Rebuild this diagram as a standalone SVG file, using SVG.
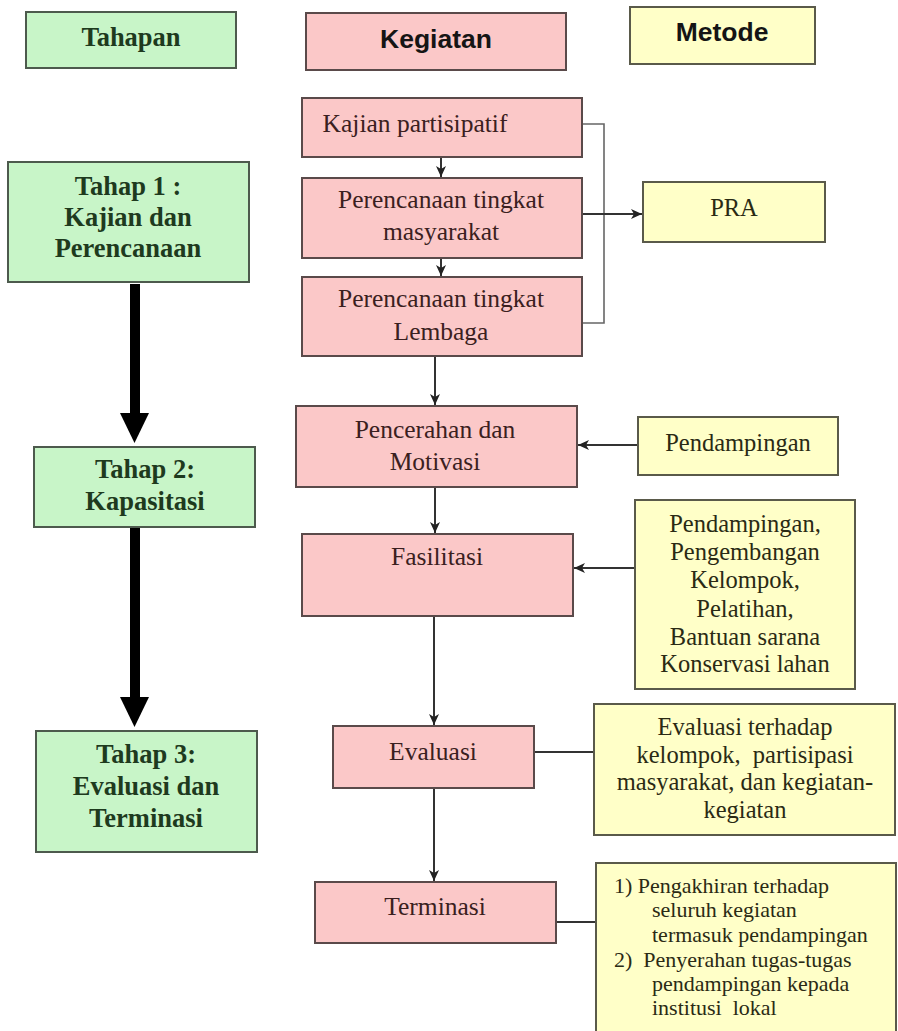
<svg xmlns="http://www.w3.org/2000/svg" width="898" height="1031" viewBox="0 0 898 1031">
<style>
.g{fill:#c8f5c8;stroke:#4d5a4d;stroke-width:2}
.p{fill:#fbc8c8;stroke:#5a4a4a;stroke-width:2}
.y{fill:#ffffc8;stroke:#5a5a4a;stroke-width:2}
.tg{font-family:"Liberation Serif",serif;font-weight:bold;font-size:26.5px;fill:#1e3a1e;text-anchor:middle}
.tp{font-family:"Liberation Serif",serif;font-size:25.5px;fill:#3a2020;text-anchor:middle}
.ty{font-family:"Liberation Serif",serif;font-size:24.5px;fill:#2a2a14;text-anchor:middle}
.ts{font-family:"Liberation Serif",serif;font-size:22px;fill:#2a2a14}
.th{font-family:"Liberation Sans",Arial,sans-serif;font-weight:bold;font-size:26.5px;fill:#151515;text-anchor:middle}
.c{fill:none;stroke:#333;stroke-width:2}
.b{fill:none;stroke:#666;stroke-width:1.6}
.k{fill:#000}
</style>
<defs>
<marker id="ah" markerUnits="userSpaceOnUse" markerWidth="12" markerHeight="12" refX="11" refY="6" orient="auto">
<path d="M0,1 L11,6 L0,11 L3,6 Z" fill="#222"/>
</marker>
</defs>
<rect width="898" height="1031" fill="#fff"/>

<g id="connectors">
<path class="c" d="M441,157 V177" marker-end="url(#ah)"/>
<path class="c" d="M441,258 V276" marker-end="url(#ah)"/>
<path class="b" d="M582,124 H604 V323 H582"/>
<path class="c" d="M582,214 H642" marker-end="url(#ah)"/>
<path class="c" d="M435,356 V405" marker-end="url(#ah)"/>
<path class="c" d="M638,445 H578" marker-end="url(#ah)"/>
<path class="c" d="M435,487 V533" marker-end="url(#ah)"/>
<path class="c" d="M635,568 H574" marker-end="url(#ah)"/>
<path class="c" d="M434,616 V725" marker-end="url(#ah)"/>
<path class="c" d="M534,752 H594"/>
<path class="c" d="M434,788 V881" marker-end="url(#ah)"/>
<path class="c" d="M556,922 H596"/>
<rect class="k" x="130" y="284" width="10" height="130"/>
<path class="k" d="M120,413 H149 L134.5,443 Z"/>
<rect class="k" x="130" y="527" width="10" height="172"/>
<path class="k" d="M120,697 H149 L134.5,727 Z"/>
</g>

<g id="tahapan"><rect class="g" x="26" y="12" width="210" height="56"/><text class="tg" x="131" y="46">Tahapan</text></g>
<g id="kegiatan"><rect class="p" x="306" y="13" width="260" height="57"/><text class="th" x="436" y="48">Kegiatan</text></g>
<g id="metode"><rect class="y" x="630" y="7" width="185" height="57"/><text class="th" x="722" y="41">Metode</text></g>

<g id="tahap1"><rect class="g" x="8" y="162" width="241" height="120"/>
<text class="tg" x="128" y="195">Tahap 1 :</text><text class="tg" x="128" y="226">Kajian dan</text><text class="tg" x="128" y="257">Perencanaan</text></g>
<g id="tahap2"><rect class="g" x="34" y="447" width="221" height="80"/>
<text class="tg" x="145" y="478">Tahap 2:</text><text class="tg" x="145" y="510">Kapasitasi</text></g>
<g id="tahap3"><rect class="g" x="36" y="731" width="221" height="121"/>
<text class="tg" x="146" y="763">Tahap 3:</text><text class="tg" x="146" y="795">Evaluasi dan</text><text class="tg" x="146" y="827">Terminasi</text></g>

<g id="kajian"><rect class="p" x="302" y="98" width="280" height="59"/><text class="tp" x="415" y="132">Kajian partisipatif</text></g>
<g id="masyarakat"><rect class="p" x="302" y="178" width="280" height="80"/>
<text class="tp" x="441" y="208">Perencanaan tingkat</text><text class="tp" x="441" y="240">masyarakat</text></g>
<g id="lembaga"><rect class="p" x="302" y="277" width="280" height="79"/>
<text class="tp" x="441" y="307">Perencanaan tingkat</text><text class="tp" x="441" y="340">Lembaga</text></g>
<g id="pencerahan"><rect class="p" x="296" y="406" width="281" height="81"/>
<text class="tp" x="435" y="438">Pencerahan dan</text><text class="tp" x="435" y="470">Motivasi</text></g>
<g id="fasilitasi"><rect class="p" x="302" y="534" width="271" height="82"/><text class="tp" x="437" y="565">Fasilitasi</text></g>
<g id="evaluasi"><rect class="p" x="333" y="726" width="201" height="62"/><text class="tp" x="433" y="760">Evaluasi</text></g>
<g id="terminasi"><rect class="p" x="315" y="882" width="241" height="61"/><text class="tp" x="435" y="915">Terminasi</text></g>

<g id="pra"><rect class="y" x="643" y="182" width="182" height="60"/><text class="ty" x="734" y="216">PRA</text></g>
<g id="pendampingan"><rect class="y" x="638" y="417" width="200" height="58"/><text class="ty" x="738" y="451">Pendampingan</text></g>
<g id="metode-fasilitasi"><rect class="y" x="635" y="500" width="220" height="189"/>
<text class="ty" x="745" y="532">Pendampingan,</text><text class="ty" x="745" y="560">Pengembangan</text><text class="ty" x="745" y="588">Kelompok,</text><text class="ty" x="745" y="617">Pelatihan,</text><text class="ty" x="745" y="645">Bantuan sarana</text><text class="ty" x="745" y="672">Konservasi lahan</text></g>
<g id="metode-evaluasi"><rect class="y" x="594" y="704" width="301" height="131"/>
<text class="ty" x="745" y="735">Evaluasi terhadap</text><text class="ty" x="745" y="763" xml:space="preserve">kelompok,  partisipasi</text><text class="ty" x="745" y="790">masyarakat, dan kegiatan-</text><text class="ty" x="745" y="818">kegiatan</text></g>
<g id="metode-terminasi"><rect class="y" x="596" y="863" width="300" height="175"/>
<text class="ts" x="614" y="893">1) Pengakhiran terhadap</text>
<text class="ts" x="652" y="917">seluruh kegiatan</text>
<text class="ts" x="652" y="942">termasuk pendampingan</text>
<text class="ts" x="614" y="967" xml:space="preserve">2)  Penyerahan tugas-tugas</text>
<text class="ts" x="652" y="991">pendampingan kepada</text>
<text class="ts" x="652" y="1015" xml:space="preserve">institusi  lokal</text></g>
</svg>
